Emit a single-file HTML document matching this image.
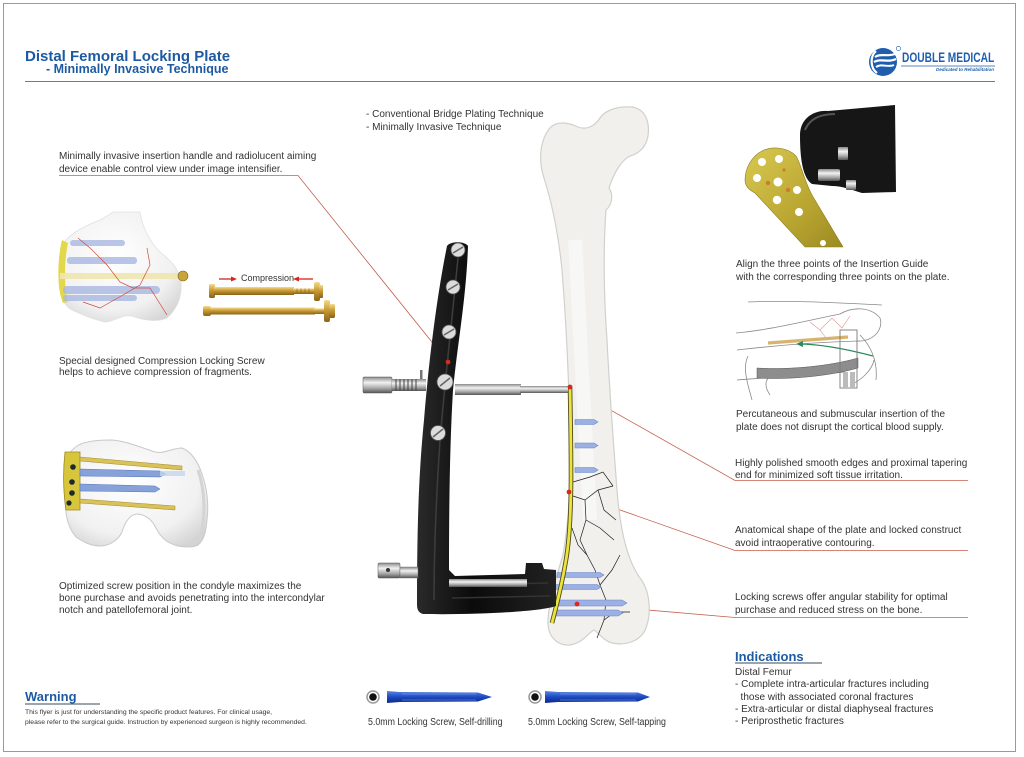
<!DOCTYPE html>
<html>
<head>
<meta charset="utf-8">
<style>
  html,body{margin:0;padding:0;background:#fff;}
  body{width:1024px;height:757px;position:relative;overflow:hidden;font-family:"Liberation Sans",Arial,sans-serif;color:#333;}
  .frame{position:absolute;left:3px;top:3px;width:1013px;height:749px;border:1px solid #9a9a9a;box-sizing:border-box;}
  .t{position:absolute;white-space:nowrap;font-size:10px;color:#333;}
  .blue{color:#1d5aa2;font-weight:bold;}
  svg{position:absolute;left:0;top:0;}
</style>
</head>
<body>
<div class="frame"></div>

<svg width="1024" height="757" viewBox="0 0 1024 757" xmlns="http://www.w3.org/2000/svg">
  <defs>
    <linearGradient id="gold" x1="0" y1="0" x2="0" y2="1">
      <stop offset="0" stop-color="#f3dc8a"/>
      <stop offset="0.45" stop-color="#c99a35"/>
      <stop offset="1" stop-color="#8a6418"/>
    </linearGradient>
    <linearGradient id="plateg" x1="0" y1="0" x2="1" y2="1">
      <stop offset="0" stop-color="#d8c850"/>
      <stop offset="0.6" stop-color="#b9a631"/>
      <stop offset="1" stop-color="#9c8a22"/>
    </linearGradient>
    <linearGradient id="metal" x1="0" y1="0" x2="0" y2="1">
      <stop offset="0" stop-color="#8a8a8a"/>
      <stop offset="0.35" stop-color="#f2f2f2"/>
      <stop offset="0.7" stop-color="#a8a8a8"/>
      <stop offset="1" stop-color="#555"/>
    </linearGradient>
    <linearGradient id="blueScrew" x1="0" y1="0" x2="0" y2="1">
      <stop offset="0" stop-color="#5a86e0"/>
      <stop offset="0.5" stop-color="#1d49c4"/>
      <stop offset="1" stop-color="#0e2a86"/>
    </linearGradient>
    <linearGradient id="guide" x1="0" y1="0" x2="1" y2="0">
      <stop offset="0" stop-color="#2a2a2a"/>
      <stop offset="0.4" stop-color="#0b0b0b"/>
      <stop offset="1" stop-color="#222"/>
    </linearGradient>
    <radialGradient id="knee" cx="0.45" cy="0.4" r="0.7">
      <stop offset="0" stop-color="#ffffff"/>
      <stop offset="0.7" stop-color="#f1f1f1"/>
      <stop offset="1" stop-color="#d4d4d4"/>
    </radialGradient>
  </defs>

  <!-- header rule -->
  <line x1="25" y1="81.5" x2="995" y2="81.5" stroke="#7a7a7a" stroke-width="1"/>

  <!-- logo -->
  <circle cx="883" cy="62" r="14" fill="#1f5eae"/>
  <path d="M876,51 C870,56 870,68 877,73" stroke="#fff" stroke-width="2.2" fill="none"/>
  <path d="M875,57 C881,53 887,57 895,54" stroke="#fff" stroke-width="2.2" fill="none"/>
  <path d="M874,62 C881,58 888,63 896,59" stroke="#fff" stroke-width="2.2" fill="none"/>
  <path d="M876,67 C882,63 888,68 894,65" stroke="#fff" stroke-width="2" fill="none"/>
  <circle cx="898.5" cy="48.5" r="2.2" fill="none" stroke="#1f5eae" stroke-width="0.6"/>
  <line x1="901" y1="66" x2="995" y2="66" stroke="#1f5eae" stroke-width="0.8"/>

  <!-- ============ LEADER LINES ============ -->
  <g stroke="#c4604e" stroke-width="0.8" fill="none">
    <polyline points="59,175.5 298,175.5 448,362"/>
    <polyline points="570,387 735,480.5 968,480.5"/>
    <polyline points="569,492 735,550.5 968,550.5"/>
    <polyline points="577,604 735,617.5 968,617.5"/>
  </g>

  <!-- ============ CENTRAL FEMUR ============ -->
  <path d="M550,128 C556,121 568,122 578,127 C586,130 594,127 600,118 C606,109 620,106 632,107 C645,109 650,121 648,136 C646,148 638,154 630,156 C622,160 614,172 609,188 C613,194 613,204 606,210 C603,250 604,300 607,340 C610,400 614,450 617,490 C620,530 627,560 640,578 C651,592 651,615 646,628 C641,641 626,646 612,643 C604,641 599,633 594,630 C588,633 583,643 570,645 C557,646 547,636 548,620 C549,600 556,578 563,555 C569,520 571,480 570,440 C569,380 566,320 562,270 C558,230 551,200 544,178 C538,160 540,140 550,128 Z"
        fill="#f1f0ed" stroke="#d2d0cc" stroke-width="1.2"/>
  <path d="M575,240 C580,320 585,420 590,520" stroke="#f9f9f8" stroke-width="14" fill="none" opacity="0.7"/>

  <!-- fracture lines -->
  <g stroke="#1e1e1e" stroke-width="0.7" fill="none">
    <polyline points="573,482 590,477 603,472 613,486"/>
    <polyline points="573,496 585,500 598,490 613,486"/>
    <polyline points="585,500 586,520 580,540 587,555 595,570 600,585 606,600 604,620 597,638"/>
    <polyline points="598,490 604,510 616,520"/>
    <polyline points="586,520 600,528 614,540"/>
    <polyline points="572,528 578,545 587,555"/>
    <polyline points="600,585 612,570 620,555"/>
    <polyline points="604,620 615,612 630,612"/>
  </g>

  <!-- blue screws in femur -->
  <g fill="#9cb0e4" stroke="#6a84c8" stroke-width="0.6">
    <path d="M575,419.5 L594,419.5 L598,422 L594,424.5 L575,424.5 Z"/>
    <path d="M575,443 L594,443 L598,445.5 L594,448 L575,448 Z"/>
    <path d="M575,467.5 L594,467.5 L598,470 L594,472.5 L575,472.5 Z"/>
    <path d="M557,572.5 L600,572.5 L604,575 L600,577.5 L557,577.5 Z"/>
    <path d="M555,584.5 L597,584.5 L601,587 L597,589.5 L555,589.5 Z"/>
    <path d="M553,600 L622,600 L627,603 L622,606 L553,606 Z"/>
    <path d="M555,610 L618,610 L623,613 L618,616 L555,616 Z"/>
  </g>

  <!-- yellow plate -->
  <path d="M570,387 C571,450 573,520 566,560 C561,590 556,607 552,623" stroke="#4d4a1e" stroke-width="4.6" fill="none"/>
  <path d="M570,387 C571,450 573,520 566,560 C561,590 556,607 552,623" stroke="#ece43a" stroke-width="2.8" fill="none"/>

  <!-- ============ AIMING ARM ============ -->
  <path d="M447,246 C450,241 465,241 468,246 C466,300 458,340 453,390 C450,440 449,500 449,570 L455,576 L525,574 L526,563 L542,563 L544,569 L556,570 L556,606 C540,612 470,615 423,614 C419,613 417,610 417,605 C417,540 418,480 424,420 C428,370 436,300 447,246 Z"
        fill="url(#guide)"/>
  <path d="M458,258 C452,320 445,380 440,440 C436,500 434,550 434,600" stroke="#3c3c3c" stroke-width="1.6" fill="none"/>
  <path d="M452,585 L548,583 M452,598 L550,596" stroke="#333" stroke-width="1.5" fill="none"/>

  <!-- lower rod and knob -->
  <rect x="449" y="579" width="78" height="8" fill="url(#metal)"/>
  <rect x="378" y="563" width="22" height="15" rx="1" fill="url(#metal)" stroke="#555" stroke-width="0.5"/>
  <circle cx="388" cy="570" r="2" fill="#333"/>
  <rect x="400" y="567" width="18" height="11" fill="url(#metal)" stroke="#666" stroke-width="0.4"/>

  <!-- upper rod -->
  <rect x="363" y="377" width="29" height="16" rx="1" fill="url(#metal)" stroke="#555" stroke-width="0.5"/>
  <rect x="392" y="379" width="34" height="12" fill="url(#metal)"/>
  <g stroke="#444" stroke-width="1">
    <line x1="396" y1="379" x2="396" y2="391"/><line x1="400" y1="379" x2="400" y2="391"/>
    <line x1="404" y1="379" x2="404" y2="391"/><line x1="408" y1="379" x2="408" y2="391"/>
    <line x1="412" y1="379" x2="412" y2="391"/><line x1="416" y1="379" x2="416" y2="391"/>
  </g>
  <rect x="420" y="370" width="2.5" height="9" fill="#777"/>
  <rect x="455" y="384" width="66" height="11" fill="url(#metal)"/>
  <rect x="520" y="386" width="48" height="7" fill="url(#metal)"/>

  <!-- screws on arm -->
  <g stroke="#555" stroke-width="0.8" fill="#dcdcdc">
    <circle cx="458" cy="250" r="7"/>
    <circle cx="453" cy="287" r="7"/>
    <circle cx="449" cy="332" r="7"/>
    <circle cx="445" cy="382" r="8"/>
    <circle cx="438" cy="433" r="7.5"/>
  </g>
  <g stroke="#666" stroke-width="1.6">
    <line x1="453" y1="253" x2="463" y2="247"/>
    <line x1="448" y1="290" x2="458" y2="284"/>
    <line x1="444" y1="335" x2="454" y2="329"/>
    <line x1="440" y1="386" x2="450" y2="378"/>
    <line x1="433" y1="437" x2="443" y2="429"/>
  </g>

  <!-- red dots -->
  <g fill="#d52a1f">
    <circle cx="448" cy="362" r="2.4"/>
    <circle cx="570" cy="387" r="2.4"/>
    <circle cx="569" cy="492" r="2.4"/>
    <circle cx="577" cy="604" r="2.4"/>
  </g>

  <!-- ============ KNEE 1 ============ -->
  <path d="M113,212 L140,212 C142,225 148,240 160,252 C170,260 179,268 181,282 C182,295 178,308 167,318 C158,322 145,321 132,316 C122,314 114,322 105,322 C95,320 85,316 72,310 C63,305 59,295 59,280 C59,265 60,250 66,240 C75,230 90,224 100,220 C106,217 110,214 113,212 Z"
        fill="url(#knee)" stroke="#e0e0e0" stroke-width="0.8"/>
  <path d="M62,240 C57,260 57,290 63,303 L68,302 C64,288 64,262 68,243 Z" fill="#e2d84a"/>
  <g fill="#a9b8e2" opacity="0.8">
    <rect x="70" y="240" width="55" height="6" rx="3"/>
    <rect x="67" y="257" width="70" height="7" rx="3"/>
    <rect x="63" y="286" width="97" height="8" rx="4"/>
    <rect x="63" y="295" width="74" height="6" rx="3"/>
  </g>
  <rect x="60" y="273" width="122" height="6" fill="#efe6b0" opacity="0.9"/>
  <circle cx="183" cy="276" r="5" fill="#c9a43a" stroke="#7a5e14" stroke-width="0.6"/>
  <g stroke="#cf4a38" stroke-width="0.7" fill="none">
    <polyline points="78,238 90,248 107,265 120,282 133,288 150,288 167,315"/>
    <polyline points="147,248 150,265 140,285 123,295 100,308 83,302"/>
  </g>

  <!-- compression screws -->
  <rect x="209" y="284" width="6" height="14" rx="1.5" fill="url(#gold)"/>
  <rect x="214" y="287" width="80" height="8" fill="url(#gold)"/>
  <rect x="293" y="288.5" width="22" height="5.5" fill="url(#gold)"/>
  <g stroke="#8a6418" stroke-width="0.6"><line x1="297" y1="288.5" x2="297" y2="294"/><line x1="301" y1="288.5" x2="301" y2="294"/><line x1="305" y1="288.5" x2="305" y2="294"/><line x1="309" y1="288.5" x2="309" y2="294"/></g>
  <rect x="314" y="282" width="6" height="19" rx="2" fill="url(#gold)"/>
  <rect x="319" y="285" width="4" height="13" rx="1" fill="url(#gold)"/>

  <rect x="203" y="306" width="8" height="10" rx="2" fill="url(#gold)"/>
  <rect x="210" y="307.5" width="105" height="7" fill="url(#gold)"/>
  <rect x="313" y="308.5" width="12" height="5.5" fill="url(#gold)"/>
  <rect x="324" y="300" width="6" height="22" rx="2" fill="url(#gold)"/>
  <rect x="329" y="304" width="6" height="14" rx="1.5" fill="url(#gold)"/>

  <g stroke="#d42424" stroke-width="1.3" fill="#d42424">
    <line x1="219" y1="279" x2="232" y2="279"/>
    <polygon points="237,279 231,276.5 231,281.5" stroke="none"/>
    <line x1="299" y1="279" x2="313" y2="279"/>
    <polygon points="293,279 299,276.5 299,281.5" stroke="none"/>
  </g>

  <!-- ============ KNEE 2 ============ -->
  <path d="M67,457 C72,448 80,443 88,442 C96,440 104,440 112,440 C125,441 140,447 155,452 C165,454 172,448 182,448 C192,452 198,462 202,474 C207,488 209,505 207,520 C206,532 204,540 198,545 C192,548 184,547 178,546 C170,544 162,540 156,528 C152,520 146,515 138,514 C130,514 125,522 122,532 C118,540 110,546 100,546 C90,546 82,541 76,537 C70,530 67,522 66,512 C64,495 63,472 67,457 Z"
        fill="url(#knee)" stroke="#c9c9c9" stroke-width="1"/>
  <path d="M198,470 C205,490 206,515 200,540" stroke="#d4d4d4" stroke-width="3" fill="none"/>
  <path d="M65,452 L80,452 L80,510 L66,510 C63,490 63,470 65,452 Z" fill="#d7c53c" stroke="#9c8a22" stroke-width="0.8"/>
  <g fill="#1c2a2a">
    <circle cx="73" cy="467" r="2.8"/><circle cx="72" cy="482" r="2.8"/>
    <circle cx="72" cy="493" r="2.8"/><circle cx="69" cy="503" r="2.6"/>
  </g>
  <g fill="#86a2d8" stroke="#5674bb" stroke-width="0.5">
    <path d="M80,469 L160,471 L166,474 L160,477 L80,476 Z"/>
    <path d="M80,484 L155,486 L160,489 L155,492 L80,491 Z"/>
  </g>
  <rect x="160" y="471" width="25" height="5" fill="#c6d6ef" opacity="0.8"/>
  <g fill="#d9c25a" stroke="#a48a2a" stroke-width="0.5">
    <path d="M80,457 L182,466 L182,470 L80,461 Z"/>
    <path d="M80,499 L175,506 L175,510 L80,503 Z"/>
  </g>

  <!-- ============ RIGHT: plate + insertion guide ============ -->
  <path d="M745,180 C745,168 752,156 762,151 C772,146 788,147 796,156 C801,163 805,185 815,200 L843,247 L805,247 L755,193 C749,190 745,186 745,180 Z"
        fill="url(#plateg)" stroke="#8d7d20" stroke-width="0.6"/>
  <g fill="#fff">
    <circle cx="762" cy="162" r="4"/><circle cx="779" cy="159" r="4"/>
    <circle cx="757" cy="178" r="4"/><circle cx="778" cy="182" r="4.5"/>
    <circle cx="797" cy="190" r="4"/><circle cx="777" cy="200" r="4.2"/>
    <circle cx="799" cy="212" r="4"/><circle cx="823" cy="243" r="3"/>
  </g>
  <g fill="#d07a2a"><circle cx="768" cy="183" r="2.2"/><circle cx="788" cy="190" r="2.2"/><circle cx="784" cy="170" r="1.6"/></g>
  <path d="M800,135 C800,120 812,110 828,111 L895,105 L896,192 L862,193 C852,190 842,186 832,186 L812,184 C803,178 800,160 800,135 Z" fill="#161616"/>
  <path d="M805,130 C810,118 822,114 835,114" stroke="#555" stroke-width="2" fill="none"/>
  <rect x="818" y="169" width="22" height="12" rx="2" fill="url(#metal)"/>
  <rect x="838" y="147" width="10" height="13" rx="1" fill="url(#metal)"/>
  <rect x="846" y="180" width="10" height="10" rx="1" fill="url(#metal)"/>

  <!-- surgery sketch -->
  <g fill="none" stroke="#8a8a8a" stroke-width="0.8">
    <path d="M748,302 C790,300 840,303 882,305"/>
    <path d="M736,333 C770,330 800,322 840,314 C852,307 870,306 880,318 C884,330 872,342 858,341 C820,342 780,345 737,350"/>
    <path d="M737,380 C760,378 800,376 845,372"/>
    <path d="M752,400 C748,385 742,368 748,356 M770,395 C760,380 770,372 785,376"/>
    <path d="M860,335 C870,345 878,360 876,380 M850,385 C862,380 872,370 874,360"/>
  </g>
  <g stroke="#d9958a" stroke-width="0.6" fill="none">
    <polyline points="810,322 820,330 832,318 842,328 850,316"/>
    <polyline points="820,330 826,338"/>
  </g>
  <path d="M768,343 L848,337" stroke="#d6b46e" stroke-width="3.2"/>
  <path d="M873,356 C850,350 820,344 798,344" stroke="#2d8a5c" stroke-width="1.2" fill="none"/>
  <polygon points="796,344 803,341 803,347" fill="#2d8a5c"/>
  <path d="M757,368 C790,370 830,366 858,358 L858,368 C830,376 790,380 757,378 Z" fill="#8d8d8d" stroke="#555" stroke-width="0.5"/>
  <rect x="840" y="330" width="17" height="58" fill="none" stroke="#7a7a7a" stroke-width="0.9"/>
  <rect x="843" y="372" width="5" height="16" fill="#bbb"/><rect x="850" y="372" width="5" height="16" fill="#bbb"/>

  <!-- ============ BOTTOM SCREWS ============ -->
  <circle cx="373" cy="697" r="6" fill="#fff" stroke="#999" stroke-width="1.5"/>
  <circle cx="373" cy="697" r="3.8" fill="#111"/>
  <path d="M387,691 L400,692 L478,692.5 L492,697 L478,701.5 L400,702 L387,703 Z" fill="url(#blueScrew)"/>
  <g stroke="#7fa2ec" stroke-width="0.6"><line x1="402" y1="694" x2="476" y2="694"/><line x1="402" y1="700" x2="476" y2="700"/></g>

  <circle cx="535" cy="697" r="6" fill="#fff" stroke="#999" stroke-width="1.5"/>
  <circle cx="535" cy="697" r="3.8" fill="#111"/>
  <path d="M545,691 L558,692 L638,692.5 L650,697 L638,701.5 L558,702 L545,703 Z" fill="url(#blueScrew)"/>
  <g stroke="#7fa2ec" stroke-width="0.6"><line x1="560" y1="694" x2="636" y2="694"/><line x1="560" y1="700" x2="636" y2="700"/></g>

  <!-- underlines for headings -->
  <line x1="25" y1="704" x2="100" y2="704" stroke="#3a4a5e" stroke-width="1"/>
  <line x1="735" y1="663" x2="822" y2="663" stroke="#3a4a5e" stroke-width="1"/>
</svg>

<!-- ============ TEXT ============ -->
<div class="t blue" style="left:25px;top:47.8px;font-size:15px;line-height:18px;">Distal Femoral Locking Plate</div>
<div class="t blue" style="left:46px;top:62.2px;font-size:12.5px;line-height:15px;">- Minimally Invasive Technique</div>

<div class="t blue" style="left:902px;top:50px;font-size:13.5px;line-height:16px;color:#1f5eae;transform:scaleX(0.754);transform-origin:0 0;">DOUBLE MEDICAL</div>
<div class="t" style="left:930px;top:67px;width:64px;text-align:right;font-size:4.5px;line-height:6px;font-style:italic;font-weight:bold;color:#1f5eae;">Dedicated to Rehabilitation</div>

<div class="t" style="left:366px;top:107.5px;line-height:13px;">- Conventional Bridge Plating Technique<br>- Minimally Invasive Technique</div>

<div class="t" style="left:59px;top:151.3px;line-height:12.3px;">Minimally invasive insertion handle and radiolucent aiming<br>device enable control view under image intensifier.</div>

<div class="t" style="left:241px;top:273px;font-size:9px;line-height:11px;">Compression</div>

<div class="t" style="left:59px;top:355.7px;line-height:11.8px;">Special designed Compression Locking Screw<br>helps to achieve compression of fragments.</div>

<div class="t" style="left:59px;top:580.6px;line-height:12.2px;">Optimized screw position in the condyle maximizes the<br>bone purchase and avoids penetrating into the intercondylar<br>notch and patellofemoral joint.</div>

<div class="t blue" style="left:25px;top:688.7px;font-size:13px;line-height:15px;">Warning</div>
<div class="t" style="left:25px;top:708.2px;font-size:6.8px;line-height:9.7px;color:#333;">This flyer is just for understanding the specific product features. For clinical usage,<br>please refer to the surgical guide. Instruction by experienced surgeon is highly recommended.</div>

<div class="t" style="left:368px;top:717.3px;line-height:12px;transform:scaleX(0.88);transform-origin:0 0;">5.0mm Locking Screw, Self-drilling</div>
<div class="t" style="left:528px;top:717.3px;line-height:12px;transform:scaleX(0.88);transform-origin:0 0;">5.0mm Locking Screw, Self-tapping</div>

<div class="t" style="left:736px;top:259.4px;line-height:12.6px;">Align the three points of the Insertion Guide<br>with the corresponding three points on the plate.</div>
<div class="t" style="left:736px;top:407.8px;line-height:13px;">Percutaneous and submuscular insertion of the<br>plate does not disrupt the cortical blood supply.</div>
<div class="t" style="left:735px;top:457.6px;line-height:12.3px;">Highly polished smooth edges and proximal tapering<br>end for minimized soft tissue irritation.</div>
<div class="t" style="left:735px;top:525.4px;line-height:12.6px;">Anatomical shape of the plate and locked construct<br>avoid intraoperative contouring.</div>
<div class="t" style="left:735px;top:592.1px;line-height:12.4px;">Locking screws offer angular stability for optimal<br>purchase and reduced stress on the bone.</div>

<div class="t blue" style="left:735px;top:649.3px;font-size:13px;line-height:15px;">Indications</div>
<div class="t" style="left:735px;top:667.2px;line-height:12.3px;">Distal Femur<br>- Complete intra-articular fractures including<br>&nbsp;&nbsp;those with associated coronal fractures<br>- Extra-articular or distal diaphyseal fractures<br>- Periprosthetic fractures</div>

</body>
</html>
